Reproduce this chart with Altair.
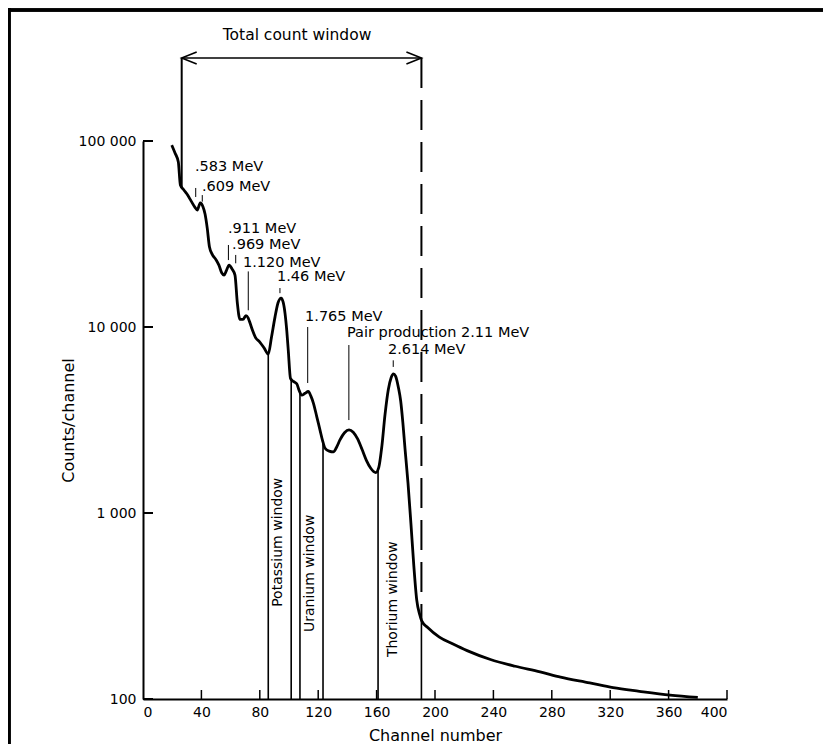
import altair as alt
import pandas as pd

# ---------------- data ----------------
channel = [19.7, 22.0, 24.2, 25.6, 28.0, 30.0, 33.0, 35.6, 37.2, 39.2, 41.0, 42.5, 44.0,
           45.5, 47.5, 50.0, 52.0, 54.0, 55.5, 57.0, 59.0, 61.0, 63.0, 64.6, 66.4, 68.5,
           70.5, 72.0, 73.5, 75.0, 77.0, 80.0, 83.0, 85.8, 88.0, 90.4, 92.5, 94.6, 96.0,
           97.3, 98.5, 99.5, 101.0, 103.0, 105.3, 107.0, 108.7, 111.0, 113.2, 115.0, 116.7,
           119.0, 121.2, 123.0, 124.7, 127.5, 130.4, 132.5, 134.9, 138.0, 141.1, 144.0,
           147.0, 150.0, 153.0, 156.0, 159.4, 161.5, 163.5, 165.8, 168.0, 170.0,
           171.5, 173.0, 175.0, 176.5, 178.0, 179.5, 181.5, 183.5, 185.5, 187.5, 189.5,
           191.0, 195.0, 203.0, 212.0, 222.0, 238.0, 255.0, 272.0, 286.0, 306.0, 322.0,
           340.0, 361.0, 380.0]
counts = [95000, 86000, 77000, 58000, 54500, 52000, 47500, 44000, 42500, 46500, 44500, 40500,
          34000, 27000, 24500, 23000, 21500, 19500, 19000, 20000, 21500, 20500, 19000, 13500,
          11000, 11000, 11500, 11200, 10400, 9600, 8800, 8300, 7700, 7150, 8800, 11300, 13500,
          14300, 13600, 11800, 9500, 7500, 5300, 5100, 4950, 4550, 4300, 4400, 4500, 4250, 3900,
          3300, 2800, 2450, 2230, 2150, 2130, 2250, 2470, 2700, 2800, 2720, 2500, 2200, 1920,
          1740, 1650, 1760, 2250, 3400, 4600, 5350, 5600, 5450, 4700, 4000, 3050, 2200,
          1450, 880, 520, 340, 285, 262, 242, 215, 198, 182, 163, 150, 140, 131, 122, 115,
          110, 105, 102]

x_ticks = [0, 40, 80, 120, 160, 200, 240, 280, 320, 360, 400]
x_labels = ["0", "40", "80", "120", "160", "200", "240", "280", "320", "360", "400"]
y_ticks = [100, 1000, 10000, 100000]
y_labels = ["100", "1 000", "10 000", "100 000"]

# energy windows (boundaries: channel, top of line on the curve)
window_ch = [85.8, 101.5, 107.5, 123.3, 161.0, 190.7]
window_top = [7150, 5250, 4450, 2420, 1730, 268]
window_names = ["Potassium window", "Uranium window", "Thorium window"]
window_label_ch = [92.5, 114.4, 171.2]
window_label_base = [313, 229, 168]

# total count window
total_ch = [26.5, 190.7]
total_low = [56600, 268]
total_level = 279000
total_title = "Total count window"
total_title_ch = 105.5
total_title_val = 372000

# peak annotations
peak_labels = [".583 MeV", ".609 MeV", ".911 MeV", ".969 MeV", "1.120 MeV", "1.46 MeV",
               "1.765 MeV", "Pair production 2.11 MeV", "2.614 MeV"]
peak_label_ch = [35.6, 40.4, 58.2, 61.0, 68.5, 91.8, 111.0, 139.7, 167.8]
peak_label_val = [72500, 56600, 33700, 27600, 22100, 18600, 11300, 9290, 7520]
peak_mark_ch = [36.1, 40.6, 58.5, 63.5, 72.1, 93.8, 112.8, 141.0, 171.4]
peak_mark_top = [55900, 51200, 27600, 24400, 19900, 16200, 10000, 8000, 6620]
peak_mark_bottom = [50000, 47200, 22900, 22000, 12300, 15200, 5000, 3160, 6100]

# ---------------- frames ----------------
spec_df = pd.DataFrame({"ch": channel, "val": counts})
win_df = pd.DataFrame({"ch": window_ch, "val": window_top, "val2": [100] * len(window_ch)})
winlab_df = pd.DataFrame({"ch": window_label_ch, "val": window_label_base, "label": window_names})
total_left_df = pd.DataFrame({"ch": [total_ch[0]], "val": [total_level], "val2": [total_low[0]]})
total_right_df = pd.DataFrame({"ch": [total_ch[1]], "val": [total_level], "val2": [total_low[1]]})
arrow_df = pd.DataFrame({"ch": [total_ch[0]], "ch2": [total_ch[1]], "val": [total_level]})
head_l_df = pd.DataFrame({"ch": [total_ch[0]], "val": [total_level]})
head_r_df = pd.DataFrame({"ch": [total_ch[1]], "val": [total_level]})
ttl_df = pd.DataFrame({"ch": [total_title_ch], "val": [total_title_val], "label": [total_title]})
plab_df = pd.DataFrame({"ch": peak_label_ch, "val": peak_label_val, "label": peak_labels})
pmark_df = pd.DataFrame({"ch": peak_mark_ch, "val": peak_mark_top, "val2": peak_mark_bottom})
yt_df = pd.DataFrame({"val": y_ticks})
xt_df = pd.DataFrame({"ch": x_ticks[1:]})

FONT = "DejaVu Sans"
W, H = 584, 558

xscale = alt.Scale(domain=[0, 400], nice=False, zero=False)
yscale = alt.Scale(type="log", domain=[100, 100000], nice=False)


def lab_expr(vals, labs):
    s = "''"
    for v, l in zip(reversed(vals), reversed(labs)):
        s = f"datum.value == {v} ? '{l}' : ({s})"
    return s


xaxis = alt.Axis(values=x_ticks, labelExpr=lab_expr(x_ticks, x_labels), ticks=False, grid=False,
                 domainColor="black", domainWidth=2, labelPadding=6, labelFontSize=14,
                 title="Channel number", titleFontSize=16, titleX=W / 2, titleY=36,
                 titleAlign="center", titleBaseline="middle")
yaxis = alt.Axis(values=y_ticks, labelExpr=lab_expr(y_ticks, y_labels), ticks=False, grid=False,
                 domainColor="black", domainWidth=2, labelPadding=7, labelFontSize=14,
                 title="Counts/channel", titleFontSize=16, titleX=-75, titleY=H / 2,
                 titleAngle=270, titleAlign="center", titleBaseline="middle")


def X(field="ch"):
    return alt.X(f"{field}:Q", scale=xscale, axis=xaxis)


def Y(field="val"):
    return alt.Y(f"{field}:Q", scale=yscale, axis=yaxis)


curve = alt.Chart(spec_df).mark_line(color="black", strokeWidth=2.8, interpolate="monotone",
                                     clip=False).encode(x=X(), y=Y())

windows = alt.Chart(win_df).mark_rule(color="black", strokeWidth=1.6).encode(
    x=X(), y=Y(), y2="val2:Q")

win_labels = alt.Chart(winlab_df).mark_text(angle=270, align="left", baseline="middle",
                                            font=FONT, fontSize=14, color="black").encode(
    x=X(), y=Y(), text="label:N")

total_left = alt.Chart(total_left_df).mark_rule(color="black", strokeWidth=2, clip=False).encode(
    x=X(), y=Y(), y2="val2:Q")
total_right = alt.Chart(total_right_df).mark_rule(color="black", strokeWidth=2, strokeDash=[30, 12],
                                                  clip=False).encode(x=X(), y=Y(), y2="val2:Q")
arrow = alt.Chart(arrow_df).mark_rule(color="black", strokeWidth=1.5, clip=False).encode(
    x=X(), x2="ch2:Q", y=Y())
head_l = alt.Chart(head_l_df).mark_point(shape="M2,-0.8L0,0L2,0.8", size=225, filled=False,
                                         stroke="black", strokeWidth=1.6, opacity=1,
                                         clip=False).encode(x=X(), y=Y())
head_r = alt.Chart(head_r_df).mark_point(shape="M-2,-0.8L0,0L-2,0.8", size=225, filled=False,
                                         stroke="black", strokeWidth=1.6, opacity=1,
                                         clip=False).encode(x=X(), y=Y())
ttl = alt.Chart(ttl_df).mark_text(align="center", baseline="middle", font=FONT, fontSize=15.5,
                                  color="black", clip=False).encode(x=X(), y=Y(), text="label:N")

plabels = alt.Chart(plab_df).mark_text(align="left", baseline="middle", font=FONT, fontSize=14.5,
                                       color="black").encode(x=X(), y=Y(), text="label:N")
pmarks = alt.Chart(pmark_df).mark_rule(color="black", strokeWidth=1).encode(
    x=X(), y=Y(), y2="val2:Q")

ytick_marks = alt.Chart(yt_df).mark_rule(color="black", strokeWidth=2).encode(
    y=Y(), x=alt.value(0), x2=alt.value(10))
xtick_marks = alt.Chart(xt_df).mark_rule(color="black", strokeWidth=1.5).encode(
    x=X(), y=alt.value(H), y2=alt.value(H - 9))

# figure frame
frame_top = alt.Chart(yt_df).mark_rule(color="black", strokeWidth=3, clip=False).encode(
    x=alt.value(-136), x2=alt.value(690), y=alt.value(-131))
frame_left = alt.Chart(yt_df).mark_rule(color="black", strokeWidth=3, clip=False).encode(
    x=alt.value(-134), y=alt.value(-133), y2=alt.value(605))
frame_right = alt.Chart(yt_df).mark_rule(color="black", strokeWidth=2, clip=False).encode(
    x=alt.value(686), y=alt.value(-133), y2=alt.value(605))

chart = alt.layer(
    windows, pmarks, total_left, total_right, arrow, head_l, head_r, curve,
    win_labels, plabels, ttl, ytick_marks, xtick_marks, frame_top, frame_left, frame_right
).properties(
    width=W, height=H,
    autosize=alt.AutoSizeParams(type="none"),
    padding={"left": 135, "top": 133, "right": 96, "bottom": 45},
    background="white",
).configure_view(strokeWidth=0).configure_axis(
    labelFont=FONT, titleFont=FONT, labelColor="black", titleColor="black",
    titleFontWeight="normal"
)

chart.save("out.html", embed_options={"renderer": "svg", "actions": False})
